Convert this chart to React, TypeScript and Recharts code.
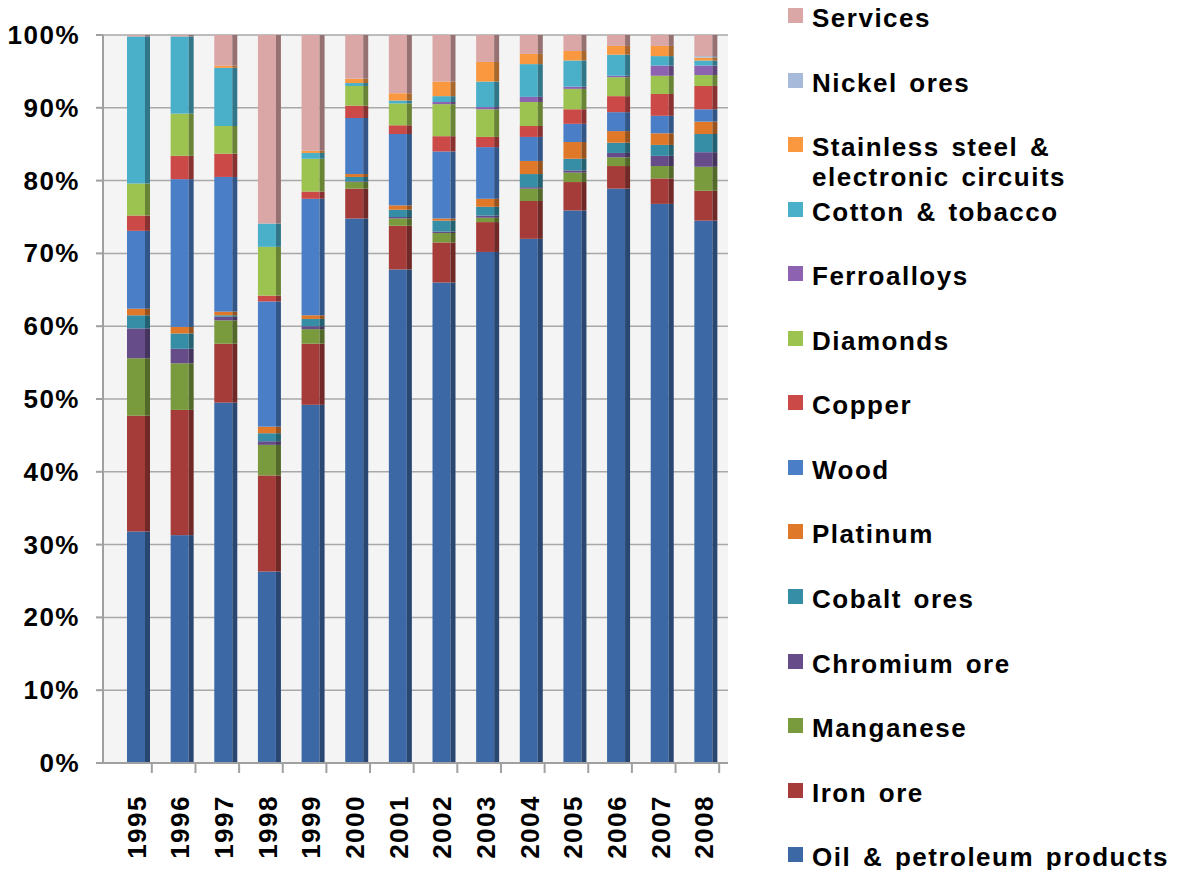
import React from 'react';
import { BarChart, Bar, XAxis, YAxis, CartesianGrid } from 'recharts';

const years = ['1995', '1996', '1997', '1998', '1999', '2000', '2001', '2002', '2003', '2004', '2005', '2006', '2007', '2008'];

const oil = [31.8, 31.3, 49.5, 26.3, 49.2, 74.8, 67.8, 66.0, 70.2, 72.0, 75.9, 78.9, 76.8, 74.5];
const ironOre = [15.9, 17.2, 8.1, 13.2, 8.4, 4.1, 6.0, 5.5, 4.1, 5.2, 3.9, 3.1, 3.5, 4.1];
const manganese = [7.9, 6.4, 3.2, 4.2, 2.0, 0.9, 1.0, 1.3, 0.6, 1.7, 1.3, 1.2, 1.7, 3.3];
const chromium = [4.1, 2.0, 0.5, 0.5, 0.4, 0.1, 0.2, 0.2, 0.3, 0.2, 0.3, 0.6, 1.4, 2.0];
const cobalt = [1.8, 2.1, 0.2, 1.1, 1.0, 0.6, 1.0, 1.5, 1.2, 1.8, 1.6, 1.4, 1.5, 2.5];
const platinum = [0.9, 0.9, 0.5, 0.9, 0.5, 0.4, 0.6, 0.3, 1.1, 1.8, 2.3, 1.6, 1.6, 1.7];
const wood = [10.7, 20.3, 18.5, 17.2, 16.0, 7.7, 9.8, 9.2, 7.1, 3.3, 2.5, 2.6, 2.4, 1.7];
const copper = [2.1, 3.2, 3.2, 0.8, 1.0, 1.7, 1.2, 2.1, 1.4, 1.5, 2.0, 2.2, 3.0, 3.2];
const diamonds = [4.4, 5.8, 3.8, 6.7, 4.5, 2.7, 3.0, 4.4, 3.8, 3.3, 2.8, 2.6, 2.5, 1.5];
const ferroalloys = [0, 0, 0, 0, 0, 0, 0, 0.3, 0.3, 0.7, 0.3, 0.2, 1.4, 1.3];
const cotton = [20.2, 10.6, 8.0, 3.2, 0.8, 0.4, 0.4, 0.8, 3.5, 4.5, 3.6, 2.9, 1.3, 0.7];
const stainless = [0, 0, 0.3, 0, 0.3, 0.6, 1.0, 2.0, 2.7, 1.4, 1.3, 1.2, 1.4, 0.4];
const nickel = [0, 0, 0, 0, 0, 0, 0, 0, 0, 0, 0, 0, 0, 0.2];
const services = [0.2, 0.2, 4.2, 25.9, 15.9, 6.0, 8.0, 6.4, 3.7, 2.6, 2.2, 1.5, 1.5, 2.9];

const yTicks = [0, 0.1, 0.2, 0.3, 0.4, 0.5, 0.6, 0.7, 0.8, 0.9, 1];

const series = [
  { key: 'oil', name: 'Oil & petroleum products', values: oil, color: '#3C68A6' },
  { key: 'iron', name: 'Iron ore', values: ironOre, color: '#A53C3A' },
  { key: 'manganese', name: 'Manganese', values: manganese, color: '#7A9A3E' },
  { key: 'chromium', name: 'Chromium ore', values: chromium, color: '#664D8A' },
  { key: 'cobalt', name: 'Cobalt ores', values: cobalt, color: '#358EA6' },
  { key: 'platinum', name: 'Platinum', values: platinum, color: '#E0782A' },
  { key: 'wood', name: 'Wood', values: wood, color: '#4A7EC6' },
  { key: 'copper', name: 'Copper', values: copper, color: '#CB4A48' },
  { key: 'diamonds', name: 'Diamonds', values: diamonds, color: '#9CC24F' },
  { key: 'ferro', name: 'Ferroalloys', values: ferroalloys, color: '#8D62B0' },
  { key: 'cotton', name: 'Cotton & tobacco', values: cotton, color: '#4AAFC9' },
  { key: 'stainless', name: 'Stainless steel & electronic circuits', values: stainless, color: '#F9983F' },
  { key: 'nickel', name: 'Nickel ores', values: nickel, color: '#A8BAD9' },
  { key: 'services', name: 'Services', values: services, color: '#DBA6A6' },
];

const data = years.map((year, i) => {
  const row: Record<string, any> = { year };
  series.forEach((s) => {
    row[s.key] = s.values[i];
  });
  return row;
});

const FONT = '"Liberation Sans", Arial, sans-serif';

function darken(hex: string, f = 0.68): string {
  const h = hex.replace('#', '');
  const r = Math.round(parseInt(h.slice(0, 2), 16) * f);
  const g = Math.round(parseInt(h.slice(2, 4), 16) * f);
  const b = Math.round(parseInt(h.slice(4, 6), 16) * f);
  return `rgb(${r},${g},${b})`;
}

const Bar3D = (props: any) => {
  const { x, y, width, height, fill } = props;
  if (!height || height <= 0 || !width) return null;
  const side = 5;
  return (
    <g>
      <rect x={x} y={y} width={width - side} height={height} fill={fill} />
      <rect x={x + width - side} y={y} width={side} height={height} fill={darken(fill)} />
    </g>
  );
};

const XTick = (props: any) => {
  const { x, y, payload } = props;
  return (
    <g>
      <line x1={x + 13} y1={y - 2} x2={x + 13} y2={y + 8} stroke="#a0a0a0" strokeWidth={2} />
      <text
        transform={`translate(${x - 2},${y + 30}) rotate(-90)`}
        textAnchor="end"
        dominantBaseline="central"
        fontFamily={FONT}
        fontWeight="bold"
        fontSize={26}
        letterSpacing={1.5}
        fill="#000"
      >
        {payload.value}
      </text>
    </g>
  );
};

const YTick = (props: any) => {
  const { x, y, payload } = props;
  return (
    <text
      x={x}
      y={y}
      textAnchor="end"
      dominantBaseline="central"
      fontFamily={FONT}
      fontWeight="bold"
      fontSize={26}
      letterSpacing={1.5}
      fill="#000"
    >
      {`${Math.round(payload.value * 100)}%`}
    </text>
  );
};

const LegendBox = () => {
  const items = series.slice().reverse();
  return (
    <div style={{ position: 'absolute', left: 788, top: 0, width: 391, height: 870 }}>
      {items.map((s, i) => (
        <div
          key={s.key}
          style={{
            position: 'absolute',
            left: 0,
            top: 3 + i * 64.55,
            display: 'flex',
            alignItems: 'flex-start',
            fontFamily: FONT,
            fontWeight: 'bold',
            fontSize: 26,
            lineHeight: '30px',
            letterSpacing: 1.5,
            wordSpacing: 3,
            color: '#000',
            whiteSpace: 'nowrap',
          }}
        >
          <span
            style={{
              display: 'inline-block',
              width: 15,
              height: 15,
              marginTop: 5,
              marginRight: 9,
              background: s.color,
              flex: '0 0 auto',
            }}
          />
          <span>
            {s.key === 'stainless' ? (
              <>
                Stainless steel &amp;
                <br />
                electronic circuits
              </>
            ) : (
              s.name
            )}
          </span>
        </div>
      ))}
    </div>
  );
};

export default function App() {
  return (
    <div style={{ position: 'absolute', left: 0, top: 0, width: 1179, height: 870, background: '#fff' }}>
      <BarChart
        width={780}
        height={870}
        data={data}
        stackOffset="expand"
        margin={{ top: 35, right: 52, left: 0, bottom: 0 }}
        barSize={23}
      >
        <CartesianGrid vertical={false} stroke="#a8a8a8" strokeWidth={1.5} fill="#f4f4f4" />
        <XAxis
          dataKey="year"
          interval={0}
          padding={{ left: 14, right: 0 }}
          axisLine={{ stroke: '#a0a0a0', strokeWidth: 2 }}
          tickLine={false}
          tickSize={0}
          tick={<XTick />}
          height={107}
        />
        <YAxis
          width={103}
          domain={[0, 1]}
          ticks={yTicks}
          interval={0}
          axisLine={{ stroke: '#a0a0a0', strokeWidth: 2 }}
          tickLine={{ stroke: '#a0a0a0', strokeWidth: 2 }}
          tickSize={7}
          tickMargin={16}
          tick={<YTick />}
        />
        {series.map((s) => (
          <Bar
            key={s.key}
            dataKey={s.key}
            name={s.name}
            stackId="a"
            fill={s.color}
            shape={<Bar3D />}
            isAnimationActive={false}
          />
        ))}
      </BarChart>
      <LegendBox />
    </div>
  );
}
